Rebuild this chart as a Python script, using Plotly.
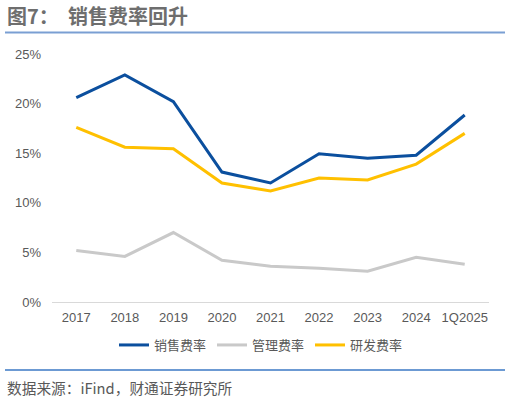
import plotly.graph_objects as go

categories = ["2017", "2018", "2019", "2020", "2021", "2022", "2023", "2024", "1Q2025"]
sales_rate = [20.6, 22.9, 20.2, 13.1, 12.0, 14.95, 14.5, 14.8, 18.85]
admin_rate = [5.2, 4.6, 7.0, 4.2, 3.6, 3.4, 3.1, 4.5, 3.8]
rd_rate = [17.6, 15.6, 15.45, 12.0, 11.2, 12.5, 12.3, 13.9, 17.0]
series_names = ["销售费率", "管理费率", "研发费率"]
colors = ["#0b4f9e", "#c9c9c9", "#ffc000"]

FONT = "Liberation Sans, Arial, Noto Sans CJK SC, sans-serif"
CJK = "Noto Sans CJK SC, Liberation Sans, sans-serif"

fig = go.Figure()
for name, vals, col in zip(series_names, [sales_rate, admin_rate, rd_rate], colors):
    fig.add_trace(go.Scatter(x=categories, y=vals, name=name, mode="lines",
                             line=dict(color=col, width=3)))

# plot area: x 52..489, y 54..302
def px_x(x):
    return (x - 52) / 437.0

def px_y(y):
    return (302 - y) / 248.0

fig.update_layout(
    width=510, height=400,
    margin=dict(l=52, r=21, t=54, b=98),
    paper_bgcolor="white", plot_bgcolor="white",
    font=dict(family=FONT, size=13, color="#595959"),
    showlegend=True,
    legend=dict(orientation="h", x=px_x(114), xanchor="left", y=px_y(345), yanchor="middle",
                font=dict(family=CJK, size=13, color="#595959"),
                itemwidth=30, entrywidth=53, tracegroupgap=0, bgcolor="rgba(0,0,0,0)"),
    xaxis=dict(type="category", range=[-0.5, len(categories) - 0.5], showgrid=False,
               showline=True, linecolor="#d9d9d9",
               linewidth=1, ticks="", tickfont=dict(size=13, color="#595959"),
               ticklabelstandoff=3, zeroline=False, fixedrange=True),
    yaxis=dict(range=[0, 25], dtick=5, ticksuffix="%", showgrid=False, showline=False,
               zeroline=False, ticks="", tickfont=dict(size=13, color="#595959"),
               ticklabelstandoff=10, fixedrange=True),
)

fig.add_shape(type="line", xref="paper", yref="paper",
              x0=px_x(5), x1=px_x(505), y0=px_y(32.5), y1=px_y(32.5),
              line=dict(color="#7a9fd3", width=2))
fig.add_shape(type="line", xref="paper", yref="paper",
              x0=px_x(5), x1=px_x(505), y0=px_y(370), y1=px_y(370),
              line=dict(color="#3b78c4", width=1.5))

fig.add_annotation(text="<b>图7：  销售费率回升</b>", xref="paper", yref="paper",
                   x=px_x(5), y=px_y(15.5), xanchor="left", yanchor="middle",
                   showarrow=False, font=dict(family=CJK, size=20, color="#6e6e6e"))
fig.add_annotation(text="数据来源：iFind，财通证券研究所", xref="paper", yref="paper",
                   x=px_x(5), y=px_y(387), xanchor="left", yanchor="middle",
                   showarrow=False, font=dict(family=CJK, size=14.7, color="#595959"))

fig.write_html("out.html", config={"displayModeBar": False},
               post_script="document.body.style.margin='0';")
